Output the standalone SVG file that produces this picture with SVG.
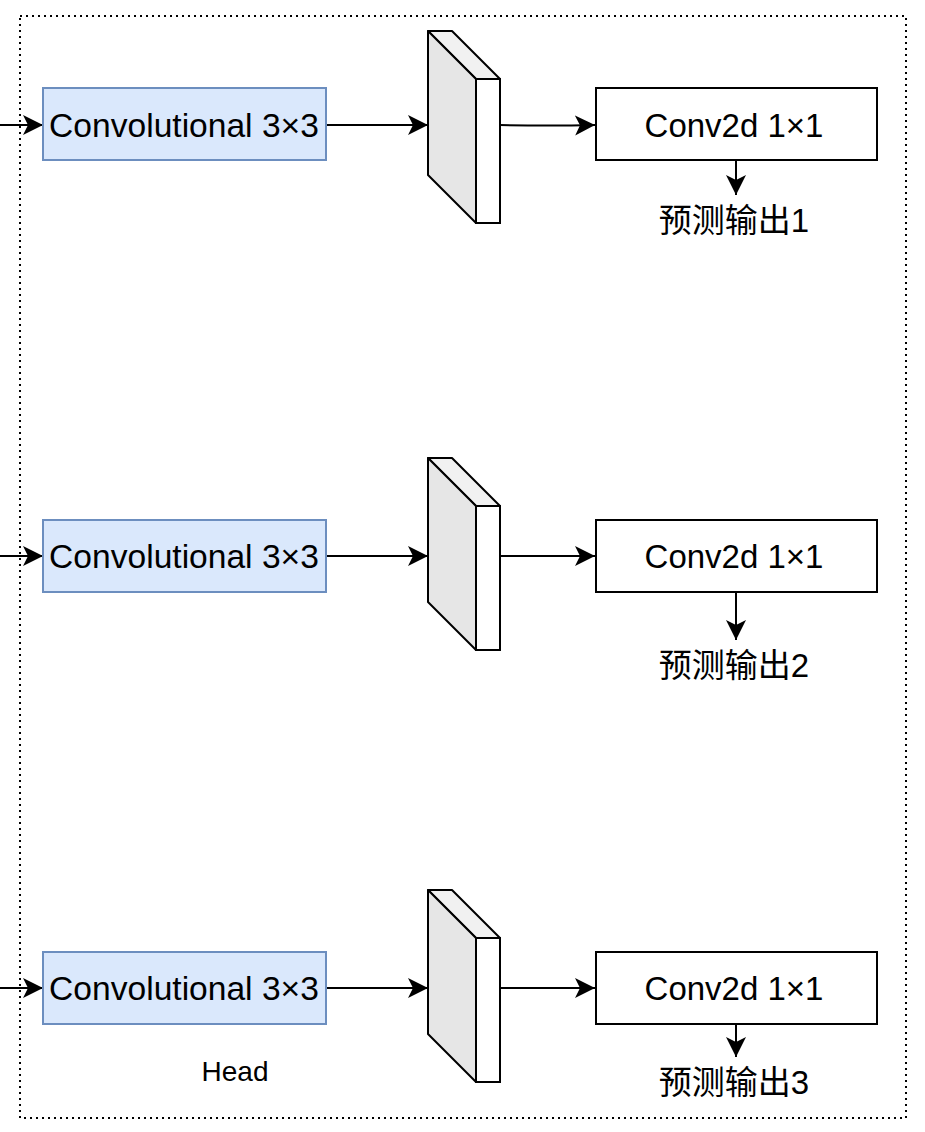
<svg xmlns="http://www.w3.org/2000/svg" width="925" height="1132" viewBox="0 0 925 1132">
<style>
.t{font-family:"Liberation Sans","Noto Sans CJK SC",Arial,sans-serif;font-size:33px;fill:#000;text-anchor:middle}
.tc{font-size:33.6px}
.conv{fill:#dae8fc;stroke:#6c8ebf;stroke-width:2}
.c2{fill:#fff;stroke:#000;stroke-width:2}
.edge{fill:none;stroke:#000;stroke-width:2}
.top{fill:#f1f1f1;stroke:#000;stroke-width:2;stroke-linejoin:round}
.side{fill:#e6e6e6;stroke:#000;stroke-width:2;stroke-linejoin:round}
.front{fill:#fff;stroke:#000;stroke-width:2}
</style>
<defs>
<marker id="arr" markerUnits="userSpaceOnUse" markerWidth="22" markerHeight="22" viewBox="0 0 22 22" refX="20" refY="11" orient="auto">
<path d="M0,1 L20,11 L0,21 L5,11 Z" fill="#000"/>
</marker>
</defs>
<rect id="head-border" x="20" y="16" width="886" height="1102" fill="none" stroke="#000" stroke-width="2" stroke-dasharray="2 4"/>
<text class="t" x="235" y="1081" style="font-size:28px">Head</text>

<g id="edges">
<path class="edge" d="M0,125 L43,125" marker-end="url(#arr)"/>
<path class="edge" d="M326,125 L428,125" marker-end="url(#arr)"/>
<path class="edge" d="M500,125 Q548,126 595,125" marker-end="url(#arr)"/>
<path class="edge" d="M736,160 L736,195" marker-end="url(#arr)"/>

<path class="edge" d="M0,556 L43,556" marker-end="url(#arr)"/>
<path class="edge" d="M326,556 L428,556" marker-end="url(#arr)"/>
<path class="edge" d="M500,556 L595,556" marker-end="url(#arr)"/>
<path class="edge" d="M736,592 L736,640" marker-end="url(#arr)"/>

<path class="edge" d="M0,988 L43,988" marker-end="url(#arr)"/>
<path class="edge" d="M326,988 L428,988" marker-end="url(#arr)"/>
<path class="edge" d="M500,988 L595,988" marker-end="url(#arr)"/>
<path class="edge" d="M736,1024 L736,1057" marker-end="url(#arr)"/>
</g>

<g id="conv1">
<rect class="conv" x="43" y="88" width="283" height="72"/>
<text class="t tc" x="184" y="137">Convolutional 3×3</text>
</g>
<g id="feat1">
<polygon class="top" points="428,31 452,31 500,79 476,79"/>
<polygon class="side" points="428,31 476,79 476,223 428,175"/>
<rect class="front" x="476" y="79" width="24" height="144"/>
</g>
<g id="conv2d1">
<rect class="c2" x="596" y="88" width="281" height="72"/>
<text class="t" x="734" y="137">Conv2d 1×1</text>
</g>
<g id="out1"><text class="t" x="734" y="232">预测输出1</text></g>

<g id="conv2">
<rect class="conv" x="43" y="520" width="283" height="72"/>
<text class="t tc" x="184" y="568">Convolutional 3×3</text>
</g>
<g id="feat2">
<polygon class="top" points="428,458 452,458 500,506 476,506"/>
<polygon class="side" points="428,458 476,506 476,650 428,602"/>
<rect class="front" x="476" y="506" width="24" height="144"/>
</g>
<g id="conv2d2">
<rect class="c2" x="596" y="520" width="281" height="72"/>
<text class="t" x="734" y="568">Conv2d 1×1</text>
</g>
<g id="out2"><text class="t" x="734" y="677">预测输出2</text></g>

<g id="conv3">
<rect class="conv" x="43" y="952" width="283" height="72"/>
<text class="t tc" x="184" y="1000">Convolutional 3×3</text>
</g>
<g id="feat3">
<polygon class="top" points="428,890 452,890 500,938 476,938"/>
<polygon class="side" points="428,890 476,938 476,1082 428,1034"/>
<rect class="front" x="476" y="938" width="24" height="144"/>
</g>
<g id="conv2d3">
<rect class="c2" x="596" y="952" width="281" height="72"/>
<text class="t" x="734" y="1000">Conv2d 1×1</text>
</g>
<g id="out3"><text class="t" x="734" y="1094">预测输出3</text></g>
</svg>
